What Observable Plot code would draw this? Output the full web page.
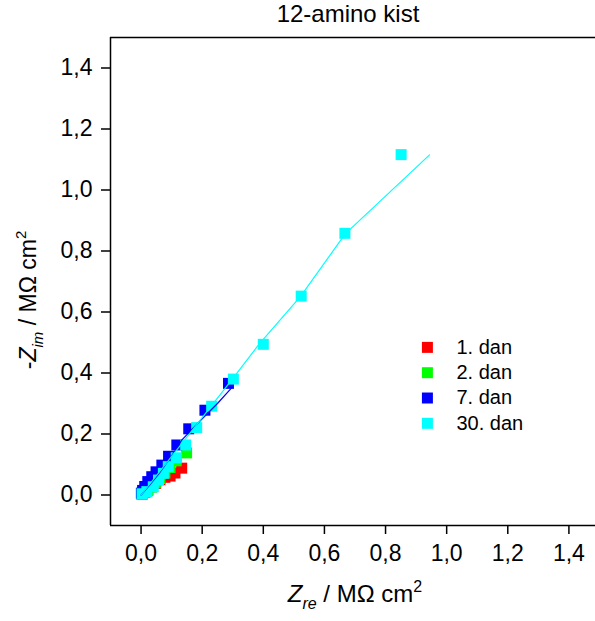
<!DOCTYPE html>
<html><head><meta charset="utf-8">
<script src="https://cdn.jsdelivr.net/npm/d3@7"></script>
<script src="https://cdn.jsdelivr.net/npm/@observablehq/plot@0.6"></script>
<style>
body{margin:0;background:#fff;}
#chart{width:595px;height:621px;}
svg text{font-family:Arial,"Liberation Sans",sans-serif;}
</style>
</head><body><div id="chart"></div>
<script>
// ---- data ----
const seriesNames = ["1. dan", "2. dan", "7. dan", "30. dan"];
const seriesColors = ["#ff0000", "#00ff00", "#0000ff", "#00ffff"];

const dan1X = [0.003, 0.012, 0.022, 0.035, 0.048, 0.062, 0.078, 0.095, 0.111, 0.133];
const dan1Y = [0.003, 0.008, 0.016, 0.027, 0.038, 0.050, 0.058, 0.062, 0.072, 0.088];

const dan2X = [0.003, 0.012, 0.022, 0.034, 0.047, 0.062, 0.078, 0.095, 0.115, 0.149];
const dan2Y = [0.002, 0.008, 0.016, 0.026, 0.040, 0.054, 0.072, 0.090, 0.112, 0.138];

const dan7X = [0.001, 0.005, 0.012, 0.022, 0.035, 0.049, 0.068, 0.090, 0.117, 0.156, 0.209, 0.286];
const dan7Y = [0.006, 0.015, 0.028, 0.044, 0.060, 0.076, 0.098, 0.127, 0.164, 0.217, 0.278, 0.366];

const dan30X = [0.003, 0.019, 0.040, 0.057, 0.073, 0.089, 0.115, 0.146, 0.182, 0.231, 0.302, 0.400, 0.524, 0.667, 0.851];
const dan30Y = [0.004, 0.011, 0.027, 0.049, 0.071, 0.093, 0.122, 0.164, 0.221, 0.291, 0.380, 0.494, 0.652, 0.858, 1.116];

// fitted curves
const fit7X = [0.000, 0.030, 0.060, 0.100, 0.133, 0.200, 0.250, 0.297];
const fit7Y = [0.000, 0.035, 0.072, 0.128, 0.180, 0.250, 0.300, 0.352];
const fit30X = [0.000, 0.150, 0.298, 0.385, 0.522, 0.668, 0.944];
const fit30Y = [0.000, 0.190, 0.379, 0.493, 0.651, 0.856, 1.115];

const xTicks = [0, 0.2, 0.4, 0.6, 0.8, 1.0, 1.2, 1.4];
const yTicks = [0, 0.2, 0.4, 0.6, 0.8, 1.0, 1.2, 1.4];
const titleText = "12-amino kist";

// ---- build tables ----
const pts = [];
[[dan1X, dan1Y], [dan2X, dan2Y], [dan7X, dan7Y], [dan30X, dan30Y]].forEach(([xs, ys], i) => {
  xs.forEach((x, j) => pts.push({x, y: ys[j], s: seriesNames[i]}));
});
const fit7 = fit7X.map((x, i) => ({x, y: fit7Y[i]}));
const fit30 = fit30X.map((x, i) => ({x, y: fit30Y[i]}));
const legend = seriesNames.map((s, i) => ({s, y: 0.484 - i * 0.083}));

const fmt = d => d.toFixed(1).replace(".", ",");
const X0 = -0.1, X1 = 1.487, Y0 = -0.1, Y1 = 1.5;

const svg = Plot.plot({
  width: 595, height: 621,
  marginLeft: 110, marginRight: 0, marginTop: 37, marginBottom: 96,
  x: {domain: [X0, X1]},
  y: {domain: [Y0, Y1]},
  color: {domain: seriesNames, range: seriesColors},
  style: {fontFamily: "Arial, 'Liberation Sans', sans-serif", color: "#000", background: "#fff"},
  marks: [
    Plot.axisX({ticks: xTicks, tickFormat: fmt, tickSize: 9, tickPadding: 10, fontSize: 23, label: null, strokeWidth: 1.5}),
    Plot.axisY({ticks: yTicks, tickFormat: fmt, tickSize: 9, tickPadding: 9, fontSize: 23, label: null, strokeWidth: 1.5}),
    Plot.ruleY([Y0], {x1: X0, x2: X1, stroke: "#000", strokeWidth: 1.5}),
    Plot.ruleY([Y1], {x1: X0, x2: X1, stroke: "#000", strokeWidth: 1.5}),
    Plot.ruleX([X0], {y1: Y0, y2: Y1, stroke: "#000", strokeWidth: 1.5}),
    Plot.dot(pts, {x: "x", y: "y", fill: "s", symbol: "square", r: 6.2}),
    Plot.line(fit7, {x: "x", y: "y", stroke: "#0000ff", strokeWidth: 1.2}),
    Plot.line(fit30, {x: "x", y: "y", stroke: "#00ffff", strokeWidth: 1.2}),
    Plot.dot(legend, {x: 0.937, y: "y", fill: "s", symbol: "square", r: 6.2}),
    Plot.text(legend, {x: 1.032, y: "y", text: "s", textAnchor: "start", fontSize: 20, fill: "#000"})
  ]
});
document.getElementById("chart").appendChild(svg);

const S = d3.select(svg);
S.append("text").attr("x", 348).attr("y", 22).attr("text-anchor", "middle")
  .attr("font-size", 24).attr("fill", "#000").text(titleText);

const xl = S.append("text").attr("x", 355).attr("y", 602).attr("text-anchor", "middle")
  .attr("font-size", 24).attr("fill", "#000");
xl.append("tspan").attr("font-style", "italic").text("Z");
xl.append("tspan").attr("font-style", "italic").attr("font-size", 16).attr("dy", 7).text("re");
xl.append("tspan").attr("dy", -7).text(" / MΩ cm");
xl.append("tspan").attr("font-size", 16).attr("dy", -10).text("2");

const yl = S.append("text").attr("transform", "translate(36,300) rotate(-90)").attr("text-anchor", "middle")
  .attr("font-size", 23).attr("fill", "#000");
yl.append("tspan").text("-");
yl.append("tspan").attr("font-style", "italic").text("Z");
yl.append("tspan").attr("font-style", "italic").attr("font-size", 15).attr("dy", 7).text("im");
yl.append("tspan").attr("dy", -7).text(" / MΩ cm");
yl.append("tspan").attr("font-size", 15).attr("dy", -10).text("2");
</script>
</body></html>
